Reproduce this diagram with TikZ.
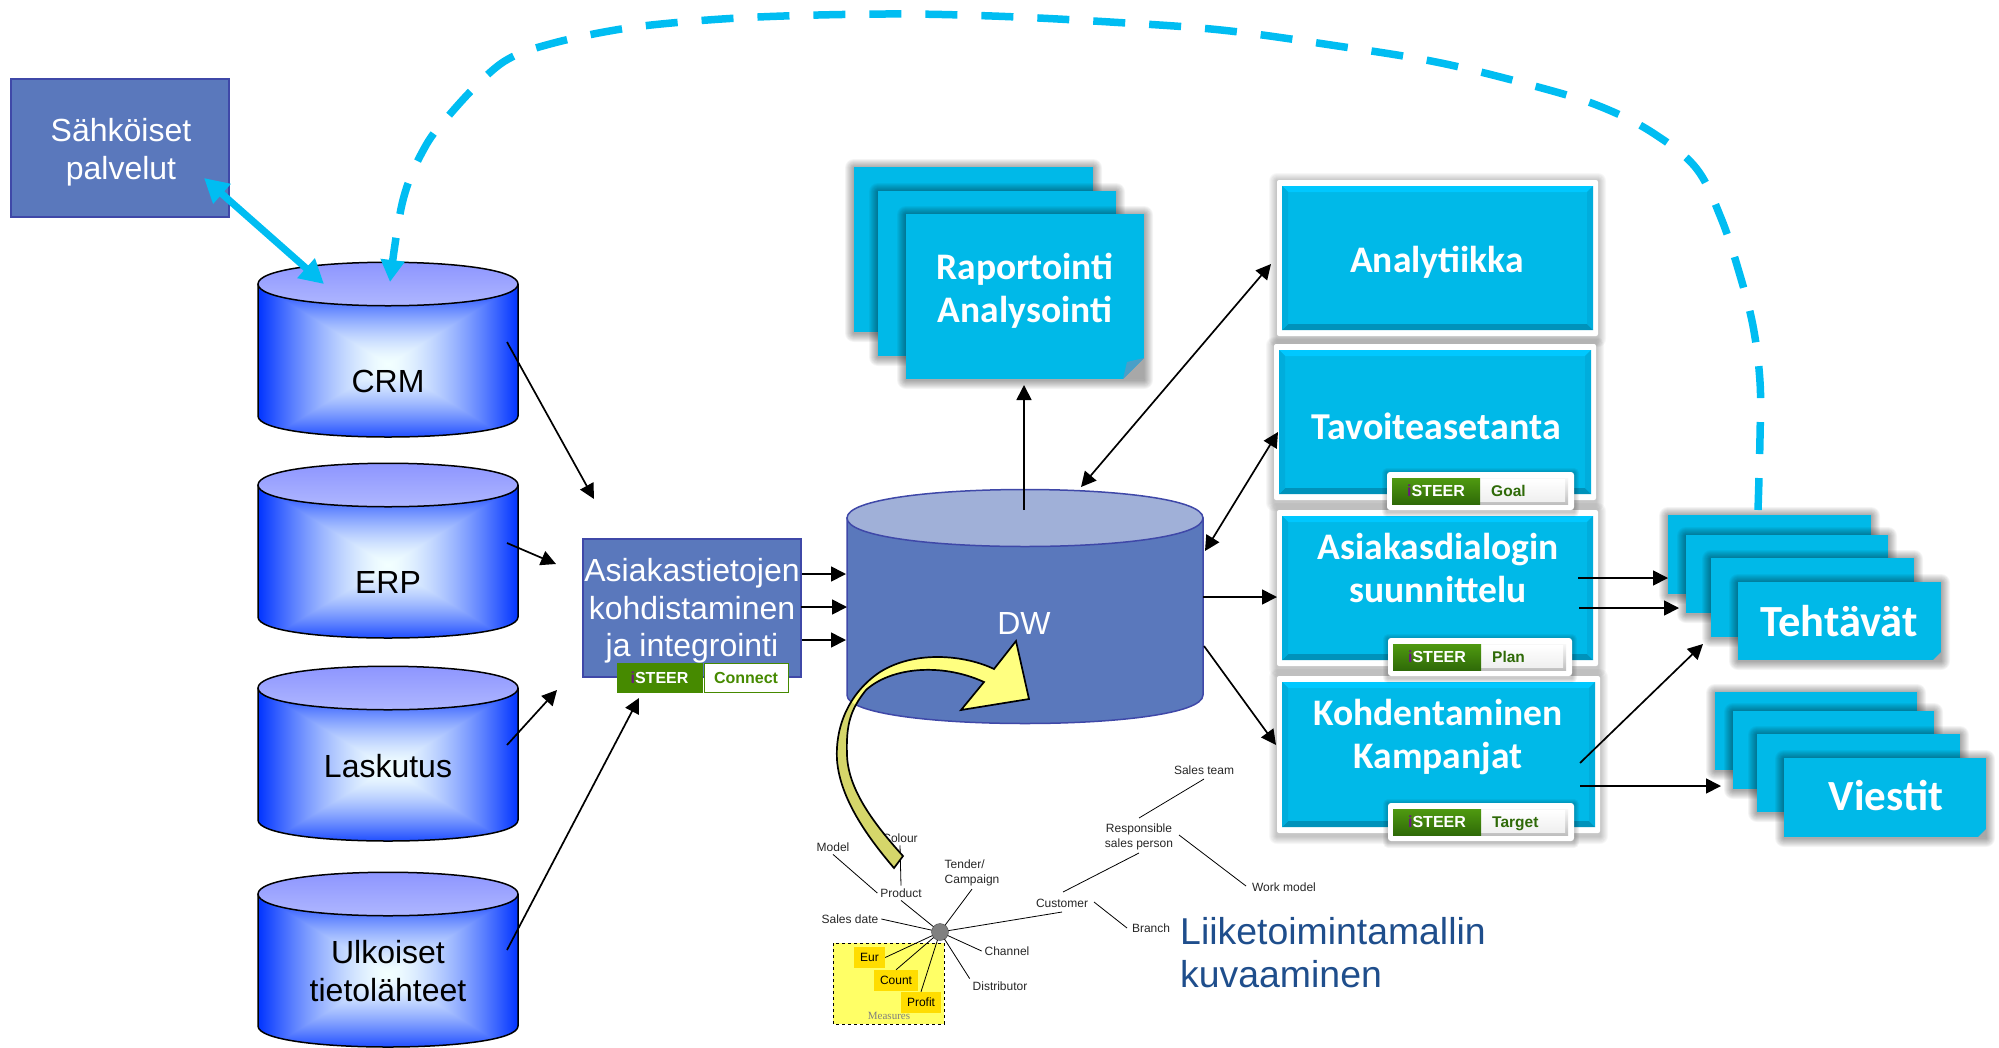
\documentclass[tikz,border=0pt]{standalone}
\usepackage{fontspec}
\setmainfont{Liberation Sans}
\newfontfamily\carl{Carlito}
\usetikzlibrary{arrows.meta,calc}
\definecolor{cy}{HTML}{00B9E8}
\definecolor{pn}{HTML}{00B9E8}
\definecolor{dashc}{HTML}{00BDF2}
\definecolor{bx}{HTML}{5A78BC}
\definecolor{bxl}{HTML}{3F48A8}
\definecolor{bxt}{HTML}{A0B0D8}
\definecolor{grn}{HTML}{468A00}
\definecolor{grnl}{HTML}{4F9A10}
\definecolor{grnd}{HTML}{2F6A08}
\definecolor{navy}{HTML}{1F4E8C}
\definecolor{ylA}{HTML}{D5D66A}
\definecolor{ylB}{HTML}{FFFF80}
\definecolor{ylC}{HTML}{FFFF66}
\definecolor{ylD}{HTML}{FFDD00}
\definecolor{cylT}{HTML}{8890FF}
\definecolor{cylB}{HTML}{B4BCFF}
\definecolor{prp}{HTML}{6A1A80}
\definecolor{edgeS}{HTML}{00ADDC}
\definecolor{edgeB}{HTML}{0092BA}
\definecolor{edgeT}{HTML}{00C8FF}
\definecolor{foldc}{HTML}{4A9FC8}
\definecolor{foldb}{HTML}{A8A8A8}
\pgfdeclarefunctionalshading{pyr}{\pgfpoint{-50bp}{-50bp}}{\pgfpoint{50bp}{50bp}}{}{
  abs exch abs 2 copy lt {exch} if pop 25 div 1.5 exp 1 exch sub dup 0.95 mul exch 0.8 mul 0.2 add 1
}
\newcommand\fz[2]{\fontsize{#1}{#2}\selectfont}
\def\shop{.045}
\newcommand\softshadow[5]{%
  \foreach \r in {1,2,...,#5}{\fill[black,opacity=\shop,rounded corners=\r pt] ({#1-\r},{#2-\r+1}) rectangle ({#3+\r},{#4+\r+1});}}
% cylinder: name, top y, text y (relative), text
\newcommand\cyl[4]{%
  \begin{scope}[shift={(258,#2)}]
    \shade[shading=pyr] (0,22) -- (0,154) .. controls (0,182) and (260,182) .. (260,154) -- (260,22) -- cycle;
    \draw[line width=1.5pt] (0,22) -- (0,154) .. controls (0,182) and (260,182) .. (260,154) -- (260,22);
    \path[top color=cylT,bottom color=cylB] (0,22) .. controls (0,-7) and (260,-7) .. (260,22) .. controls (260,51) and (0,51) .. (0,22) -- cycle;
    \draw[line width=1.5pt] (0,22) .. controls (0,-7) and (260,-7) .. (260,22) .. controls (260,51) and (0,51) .. (0,22) -- cycle;
    \node[lab31] (#1) at (130,#3) {#4};
  \end{scope}}
% stacked sheet: name x y w h
\newcommand\sheet[5]{%
  \softshadow{#2}{#3}{#2+#4}{#3+#5}{9}
  \node[sheetbox,minimum width=#4pt,minimum height=#5pt] (#1) at (#2,#3) {};}
\newcommand\fold[4]{% corner x y (bottom right), size x y
  \fill[foldb] (#1,#2) -- ({#1-#3},#2) -- (#1,{#2-#4}) -- cycle;
  \fill[foldc] ({#1-#3},#2) -- ({#1-#3+4},{#2-#4+4}) -- (#1,{#2-#4}) -- cycle;}
% panel: name x1 y1 x2 y2
\newcommand\panel[5]{%
  \pgfmathsetmacro\pw{#4-#2}\pgfmathsetmacro\ph{#5-#3}
  \def\shop{.03}
  \softshadow{#2}{#3}{#4}{#5+2}{8}
  \def\shop{.045}
  \node[panelbox,minimum width=\pw pt,minimum height=\ph pt] (#1) at (#2,#3) {};
  \fill[pn] ({#2+5},{#3+6}) rectangle ({#4-5},{#5-6});
  \fill[edgeT] ({#2+5},{#3+6}) -- ({#4-5},{#3+6}) -- ({#4-11},{#3+12}) -- ({#2+11},{#3+12}) -- cycle;
  \fill[edgeB] ({#2+5},{#5-6}) -- ({#4-5},{#5-6}) -- ({#4-11},{#5-12}) -- ({#2+11},{#5-12}) -- cycle;
  \fill[edgeS] ({#2+5},{#3+6}) -- ({#2+11},{#3+12}) -- ({#2+11},{#5-12}) -- ({#2+5},{#5-6}) -- cycle;
  \fill[edgeS] ({#4-5},{#3+6}) -- ({#4-11},{#3+12}) -- ({#4-11},{#5-12}) -- ({#4-5},{#5-6}) -- cycle;}
% tag: name x1 y1 x2 y2 label
\newcommand\steertag[6]{%
  \pgfmathsetmacro\pw{#4-#2}\pgfmathsetmacro\ph{#5-#3}
  \softshadow{#2}{#3}{#4}{#5+1}{5}
  \node[tagbox,minimum width=\pw pt,minimum height=\ph pt] (#1) at (#2,#3) {};
  \fill[top color=black!3,bottom color=black!25] ({#2+93},{#3+6}) rectangle ({#4-6},{#5-6});
  \fill[top color=white,bottom color=black!6] ({#2+93},{#3+7}) rectangle ({#4-9},{#5-9});
  \fill[top color=grnl,bottom color=grnd] ({#2+5},{#3+6}) rectangle ({#2+93},{#5-6});
  \node[steertxt] (#1s) at ({#2+49},{(#3+#5)/2}) {\textcolor{prp}{i}\textcolor{white}{STEER}};
  \node[steerlab,anchor=west] (#1l) at ({#2+104},{(#3+#5)/2+1}) {#6};}
\tikzset{
  lab31/.style={inner sep=0pt,align=center,font=\fz{32}{37.5}},
  wlab/.style={lab31,text=white},
  sheetbox/.style={fill=cy,anchor=north west,inner sep=0pt,outer sep=0pt},
  panelbox/.style={fill=white,anchor=north west,inner sep=0pt,outer sep=0pt,rounded corners=2pt},
  tagbox/.style={fill=white,anchor=north west,inner sep=0pt,outer sep=0pt,rounded corners=3pt},
  steertxt/.style={inner sep=0pt,font=\fz{16}{18}\bfseries},
  steerlab/.style={inner sep=0pt,text height=11pt,text depth=3pt,font=\fz{15.5}{18}\bfseries,text=grnd},
  cal/.style={inner sep=0pt,align=center,text=white,font=\carl\bfseries\fz{#1}{43}},
  bluebox/.style={draw=bxl,line width=1.5pt,fill=bx,anchor=north west,inner sep=0pt,outer sep=0pt},
  arr/.style={-{Triangle[length=15pt,width=15pt]},line width=1.7pt,black},
  arrb/.style={{Triangle[length=15pt,width=15pt]}-{Triangle[length=15pt,width=15pt]},line width=1.7pt,black},
  sm/.style={inner sep=0pt,outer sep=3pt,align=center,font=\fz{12}{15},text=black!85},
  sl/.style={line width=.8pt,black},
  meas/.style={fill=ylD,inner sep=0pt,font=\fz{12}{14},minimum height=21pt,text=black},
}
\begin{document}
\begin{tikzpicture}[x=1pt,y=-1pt]
\useasboundingbox (0,0) rectangle (1999,1047);
% left
\node[bluebox,minimum width=218pt,minimum height=138pt] (serv) at (11,79) {};
\node[wlab] (servt) at (121,152) {Sähköiset\\palvelut};
\cyl{crm}{262}{119}{CRM}
\cyl{erp}{463}{119}{ERP}
\cyl{lask}{666}{100}{Laskutus}
\cyl{ulk}{872}{99}{Ulkoiset\\tietolähteet}
% integration
\node[bluebox,minimum width=218pt,minimum height=138pt] (integ) at (583,539) {};
\node[wlab] (integt) at (692,611) {Asiakastietojen\\kohdistaminen\\ja integrointi};
\node[draw=grn,line width=1pt,fill=grn,anchor=north west,minimum width=85pt,minimum height=29pt,inner sep=0pt,outer sep=0pt,font=\fz{16}{18}\bfseries] (conS) at (617,663) {\textcolor{prp}{i}\textcolor{white}{STEER}};
\node[draw=grn,line width=1pt,fill=white,anchor=north west,minimum width=84pt,minimum height=29pt,inner sep=0pt,outer sep=0pt,font=\fz{16}{18}\bfseries,text=grn] (conL) at (704,663) {Connect};
% DW
\path[fill=bx,draw=bxl,line width=1.5pt] (847,518) -- (847,695) .. controls (847,733) and (1203,733) .. (1203,695) -- (1203,518) -- cycle;
\path[fill=bxt,draw=bxl,line width=1.5pt] (847,518) .. controls (847,480) and (1203,480) .. (1203,518) .. controls (1203,556) and (847,556) .. (847,518) -- cycle;
\node[wlab] (dw) at (1024,623) {DW};
% report stack
\sheet{r1}{854}{167}{239}{165}
\sheet{r2}{878}{191}{238}{165}
\sheet{r3}{906}{214}{238}{165}
\fold{1144}{379}{21}{21}
\node[cal=37.5] (rep) at (1025,291) {Raportointi\\Analysointi};
% panels
\panel{ana}{1277}{180}{1598}{336}
\node[cal=37.5] (anat) at (1437,262) {Analytiikka};
\panel{tav}{1274}{344}{1596}{500}
\node[cal=38] (tavt) at (1436,426) {Tavoiteasetanta};
\panel{dia}{1277}{510}{1598}{666}
\node[cal=37.5] (diat) at (1438,568) {Asiakasdialogin\\suunnittelu};
\panel{koh}{1277}{676}{1600}{833}
\node[cal=37.5] (koht) at (1438,737) {Kohdentaminen\\Kampanjat};
\steertag{tg}{1387}{472}{1574}{510}{Goal}
\steertag{tp}{1388}{638}{1572}{676}{Plan}
\steertag{tt}{1388}{803}{1574}{841}{Target}
% tasks
\sheet{t1}{1668}{515}{203}{79}
\sheet{t2}{1686}{535}{202}{78}
\sheet{t3}{1711}{558}{203}{79}
\sheet{t4}{1738}{582}{203}{78}
\fold{1941}{660}{8}{8}
\node[cal=44.5] (teh) at (1839,621) {Tehtävät};
\sheet{v1}{1715}{692}{202}{78}
\sheet{v2}{1733}{711}{201}{78}
\sheet{v3}{1757}{734}{203}{78}
\sheet{v4}{1784}{758}{202}{79}
\fold{1986}{837}{8}{8}
\node[cal=43] (vie) at (1886,796) {Viestit};
% coordinates of free ends
\coordinate (a1) at (507,342); \coordinate (b1) at (594,499);
\coordinate (a2) at (507,543); \coordinate (b2) at (556,564);
\coordinate (a3) at (507,745); \coordinate (b3) at (557,690);
\coordinate (a4) at (507,950); \coordinate (b4) at (639,698);
\coordinate (c1) at (802,574); \coordinate (d1) at (846,574);
\coordinate (c2) at (801,607); \coordinate (d2) at (847,607);
\coordinate (c3) at (802,640); \coordinate (d3) at (846,640);
\coordinate (e1) at (1024,510); \coordinate (f1) at (1024,385);
\coordinate (e2) at (1081,487); \coordinate (f2) at (1271,264);
\coordinate (e3) at (1205,551); \coordinate (f3) at (1278,432);
\coordinate (e4) at (1203,597); \coordinate (f4) at (1277,597);
\coordinate (e5) at (1204,646); \coordinate (f5) at (1276,745);
\coordinate (g1) at (1578,578); \coordinate (h1) at (1668,578);
\coordinate (g2) at (1579,608); \coordinate (h2) at (1679,608);
\coordinate (g3) at (1580,763); \coordinate (h3) at (1703,644);
\coordinate (g4) at (1580,786); \coordinate (h4) at (1721,786);
\draw[arr] (a1) -- (b1);
\draw[arr] (a2) -- (b2);
\draw[arr] (a3) -- (b3);
\draw[arr] (a4) -- (b4);
\draw[arr] (c1) -- (d1);
\draw[arr] (c2) -- (d2);
\draw[arr] (c3) -- (d3);
\draw[arr] (e1) -- (f1);
\draw[arrb] (e2) -- (f2);
\draw[arrb] (e3) -- (f3);
\draw[arr] (e4) -- (f4);
\draw[arr] (e5) -- (f5);
\draw[arr] (g1) -- (h1);
\draw[arr] (g2) -- (h2);
\draw[arr] (g3) -- (h3);
\draw[arr] (g4) -- (h4);
% cyan connectors
\coordinate (s1) at (204,178); \coordinate (s2) at (324,284);
\draw[{Triangle[length=24pt,width=25pt]}-{Triangle[length=24pt,width=25pt]},line width=7pt,dashc] (s1) -- (s2);
\draw[line width=7.5pt,dashc,dash pattern=on 32pt off 24pt,-{Triangle[length=22pt,width=23pt]}]
  plot[smooth,tension=.6] coordinates {(1758,510) (1760,437) (1760,382) (1753,326) (1739,272) (1721,218) (1696,168) (1653,133) (1604,108) (1549,90) (1441,63) (1331,45) (1221,30) (1110,22) (992,16) (885,14) (758,17) (661,24) (604,32) (550,44) (512,57) (485,77) (451,113) (425,147) (403,200) (390,282)};
% star schema
\path[draw=black,dashed,line width=1pt,fill=ylC] (833,943) rectangle (944,1024);
\node[meas,minimum width=31pt] (eur) at (869.5,957.5) {Eur};
\node[meas,minimum width=44pt] (cnt) at (896,980.5) {Count};
\node[meas,minimum width=40pt] (prf) at (921,1002.5) {Profit};
\node[inner sep=0pt,font=\fontspec{Liberation Serif}\fz{11}{13},text=black!50] (mea) at (889,1016) {Measures};
\node[circle,draw=black!70,fill=black!50,minimum width=17pt,inner sep=0pt,outer sep=0pt] (hub) at (940,932) {};
\node[sm] (steam) at (1204,770) {Sales team};
\node[sm] (resp) at (1139,837) {Responsible\\sales person};
\node[sm] (work) at (1284,887) {Work model};
\node[sm] (cust) at (1062,903) {Customer};
\node[sm] (bran) at (1151,928) {Branch};
\node[sm,align=left] (tend) at (972,873) {Tender/\\Campaign};
\node[sm] (model) at (833,847) {Model};
\node[sm] (col) at (900,838) {Colour};
\node[sm] (prod) at (901,893) {Product};
\node[sm] (sdate) at (850,919) {Sales date};
\node[sm] (chan) at (1007,951) {Channel};
\node[sm] (dist) at (1000,986) {Distributor};
\coordinate (st) at (1204,779); \coordinate (rt) at (1139,818); \coordinate (rr) at (1179,835); \coordinate (wl) at (1246,886);
\coordinate (rb) at (1139,853); \coordinate (ct) at (1063,892); \coordinate (cr) at (1094,902); \coordinate (bl) at (1127,928); \coordinate (cb) at (1062,912);
\draw[sl] (st) -- (rt); \draw[sl] (rr) -- (wl); \draw[sl] (rb) -- (ct); \draw[sl] (cr) -- (bl);
\draw[sl] (hub) -- (cb);
\draw[sl] (hub) -- (tend.south);
\draw[sl] (hub) -- (prod.south);
\draw[sl] (model.south) -- (prod.west);
\draw[sl] (col.south) -- (prod.north);
\draw[sl] (hub) -- (sdate.east);
\draw[sl] (hub) -- (chan.west);
\draw[sl] (hub) -- (dist.north west);
\draw[sl] (hub) -- (eur.east);
\draw[sl] (hub) -- (cnt.north);
\draw[sl] (hub) -- (prf.north);
\node[inner sep=0pt,anchor=west,align=left,font=\fz{37.4}{43},text=navy] (liik) at (1180,953) {Liiketoimintamallin\\kuvaaminen};
% yellow arrow
\def\yarrow{(1029,699) -- (1016,641) -- (994,669) .. controls (965,655) and (915,650) .. (880,672) .. controls (850,692) and (835,725) .. (837,760) .. controls (840,800) and (870,840) .. (894,868) -- (903,856) .. controls (875,825) and (848,790) .. (847,755) .. controls (846,725) and (850,710) .. (866,690) .. controls (890,668) and (940,662) .. (984,682) -- (961,710) -- cycle}
\fill[ylA] \yarrow;
\begin{scope}
\clip (847,518) -- (847,695) .. controls (847,733) and (1203,733) .. (1203,695) -- (1203,518) -- cycle;
\fill[ylB] \yarrow;
\end{scope}
\draw[line width=1.7pt,black] \yarrow;
\end{tikzpicture}
\end{document}
